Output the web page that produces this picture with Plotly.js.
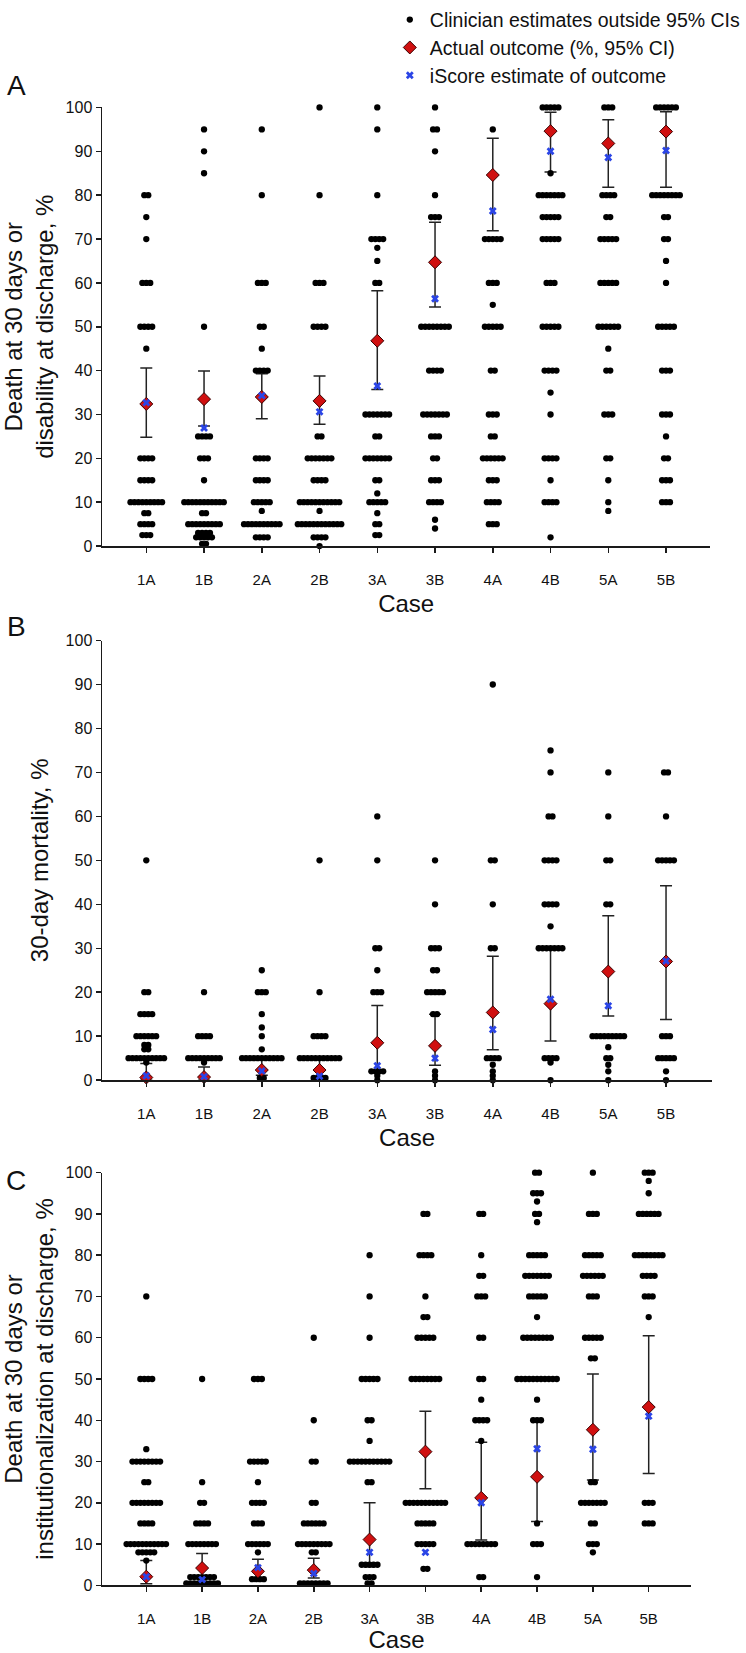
<!DOCTYPE html>
<html><head><meta charset="utf-8">
<script src="https://cdn.plot.ly/plotly-3.0.1.min.js"></script>
<style>html,body{margin:0;padding:0;background:#fff}#chart{width:746px;height:1653px}</style>
</head><body><div id="chart"></div>
<script>
// ---------- DATA ----------
const cases = ['1A','1B','2A','2B','3A','3B','4A','4B','5A','5B'];

// Panel A: death at 30 days or disability at discharge (%)
const actualA = [32.4, 33.5, 34, 33.1, 46.8, 64.7, 84.6, 94.6, 91.8, 94.5];
const ciLowA  = [24.8, 27.4, 29, 27.8, 35.7, 54.5, 71.9, 85.3, 81.8, 81.8];
const ciHighA = [40.6, 39.9, 39.3, 38.8, 58.2, 73.8, 93, 98.9, 97.2, 99];
const iscoreA = [32.7, 26.9, 34.3, 30.6, 36.5, 56.4, 76.4, 90, 88.6, 90.2];
// clinician estimates outside 95% CI: [estimate %, number of clinicians], one list per case
const estA = [
  [[80,2],[75,1],[70,1],[60,3],[50,4],[45,1],[20,4],[15,4],[10,9],[7.5,2],[5,4],[2.5,3]],
  [[95,1],[90,1],[85,1],[50,1],[25,4],[20,3],[15,1],[10,11],[7.5,2],[5,9],[3,4],[2,5],[0.5,2]],
  [[95,1],[80,1],[60,3],[50,2],[45,1],[40,4],[20,4],[15,4],[10,5],[8,1],[5,10],[2,4]],
  [[100,1],[80,1],[60,3],[50,4],[25,2],[20,7],[15,4],[10,11],[8,1],[5,12],[2,4],[0,1]],
  [[100,1],[95,1],[80,1],[70,4],[68,1],[65,1],[60,2],[30,7],[25,2],[20,7],[15,2],[12,1],[10,5],[7.5,1],[5,2],[2.5,2]],
  [[100,1],[95,2],[90,1],[80,1],[75,3],[50,8],[40,4],[30,7],[25,3],[20,2],[15,3],[10,4],[6,1],[4,1]],
  [[95,1],[70,5],[60,3],[55,1],[50,5],[40,2],[30,3],[25,2],[20,6],[15,3],[10,4],[5,3]],
  [[100,5],[85,1],[80,7],[75,5],[70,5],[60,3],[50,5],[40,4],[35,1],[30,1],[20,4],[15,1],[10,4],[2,1]],
  [[100,3],[80,4],[75,2],[70,5],[60,5],[50,6],[45,1],[40,2],[30,3],[20,2],[15,1],[10,1],[8,1]],
  [[100,6],[80,8],[75,2],[70,2],[65,1],[60,1],[50,5],[40,3],[30,3],[25,1],[20,2],[15,3],[10,3]]
];

// Panel B: 30-day mortality (%)
const actualB = [0.6, 0.7, 2.3, 2.3, 8.5, 7.8, 15.4, 17.4, 24.7, 27];
const ciLowB  = [0, 0, 1.1, 0, 2.1, 3.4, 6.9, 8.9, 14.6, 13.8];
const ciHighB = [3.8, 3, 5, 5, 17, 15, 28.2, 30, 37.4, 44.2];
const iscoreB = [1, 0.8, 2.1, 0.9, 3.3, 5, 11.5, 18.4, 16.9, 27.1];
const estB = [
  [[50,1],[20,2],[15,4],[10,6],[8,2],[7,2],[5,10],[4,1]],
  [[20,1],[10,4],[5,9],[4,1]],
  [[25,1],[20,3],[15,1],[12,1],[10,1],[7,1],[5,11],[0.5,2]],
  [[50,1],[20,1],[10,4],[5,11],[0.5,4]],
  [[60,1],[50,1],[30,2],[25,1],[20,3],[2,4],[1,1],[0,1]],
  [[50,1],[40,1],[30,3],[25,2],[20,5],[15,2],[2,1],[1,1],[0,1]],
  [[90,1],[50,2],[40,1],[30,2],[5,4],[3.5,1],[2,1],[1,1],[0,1]],
  [[75,1],[70,1],[60,2],[50,4],[40,4],[35,1],[30,7],[5,4],[4,1],[0,1]],
  [[70,1],[60,1],[50,2],[40,2],[10,9],[7.5,1],[5,2],[3.5,1],[2,1],[0,1]],
  [[70,2],[60,1],[50,5],[10,3],[5,5],[2,1],[0,1]]
];

// Panel C: death at 30 days or institutionalization at discharge (%)
const actualC = [2.1, 4.2, 3.4, 3.7, 11.1, 32.4, 21.2, 26.3, 37.7, 43.2];
const ciLowC  = [0.4, 0.8, 1.4, 1.8, 4.5, 23.4, 11, 15.5, 25.5, 27.1];
const ciHighC = [6, 7.7, 6.3, 6.6, 20, 42.2, 34.7, 39.6, 51.2, 60.5];
const iscoreC = [2.1, 1.4, 4.3, 2.9, 8, 8, 20, 33.1, 33, 41];
const estC = [
  [[70,1],[50,4],[33,1],[30,8],[25,2],[20,8],[15,4],[10,11],[8,5],[6,1]],
  [[50,1],[25,1],[20,2],[15,4],[10,8],[2,7],[0.5,9]],
  [[50,3],[30,5],[25,1],[20,4],[15,3],[10,6],[8,1],[1.5,4]],
  [[60,1],[40,1],[30,2],[20,2],[15,6],[10,9],[8,2],[0.5,8]],
  [[80,1],[70,1],[60,1],[50,5],[40,2],[35,1],[30,11],[25,2],[5,5],[2,3],[0.5,2]],
  [[90,2],[80,4],[70,1],[65,2],[60,5],[50,8],[20,11],[15,5],[10,5],[4,2]],
  [[90,2],[80,1],[75,2],[70,3],[60,2],[50,2],[45,1],[40,4],[35,1],[10,8],[2,2]],
  [[100,2],[95,3],[93,1],[90,2],[88,1],[80,5],[75,7],[70,5],[65,1],[60,8],[50,11],[45,1],[40,3],[15,1],[10,3],[2,1]],
  [[100,1],[90,3],[80,5],[75,6],[70,3],[60,5],[55,2],[25,2],[20,7],[15,2],[10,3],[8,1]],
  [[100,3],[98,1],[95,1],[90,6],[80,8],[75,4],[70,3],[65,1],[20,3],[15,3]]
];

const yTitleA = 'Death at 30 days or<br>disability at discharge, %';
const yTitleB = '30-day mortality, %';
const yTitleC = 'Death at 30 days or<br>institutionalization at discharge, %';
const xTitle = 'Case';
const legendNames = ['Clinician estimates outside 95% CIs', 'Actual outcome (%, 95% CI)', 'iScore estimate of outcome'];

// ---------- LAYOUT HELPERS ----------
const W = 746, H = 1653;
const FONT = 'Liberation Sans, Arial, sans-serif';
const INK = '#1a1a1a';
const DOT_GAP = 4.1; // px between neighbouring dots in a row

const panels = [
  {est: estA, act: actualA, lo: ciLowA, hi: ciHighA, isc: iscoreA, s: '',  top: 99,   bottom: 540,  left: 106, right: 738, c0: 152, step: 60, yt: yTitleA, letter: 'A', ly: 77},
  {est: estB, act: actualB, lo: ciLowB, hi: ciHighB, isc: iscoreB, s: '2', top: 635,  bottom: 1077, left: 106, right: 740, c0: 152, step: 60, yt: yTitleB, letter: 'B', ly: 621},
  {est: estC, act: actualC, lo: ciLowC, hi: ciHighC, isc: iscoreC, s: '3', top: 1170, bottom: 1585, left: 106, right: 718, c0: 152, step: 58, yt: yTitleC, letter: 'C', ly: 1178}
];

const traces = [];
const layout = {
  width: W, height: H, margin: {l: 0, r: 0, t: 0, b: 0},
  paper_bgcolor: '#fff', plot_bgcolor: '#fff',
  font: {family: FONT, color: '#111'},
  hovermode: false, annotations: []
};

const idx = cases.map((c, i) => i);

panels.forEach((p, pi) => {
  const xa = 'x' + p.s, ya = 'y' + p.s;
  const unit = DOT_GAP / p.step;
  // beeswarm layout of clinician estimates (side by side at each value)
  const dx = [], dy = [];
  p.est.forEach((rows, i) => rows.forEach(([v, n]) => {
    for (let j = 0; j < n; j++) { dx.push(i + (j - (n - 1) / 2) * unit); dy.push(v); }
  }));
  const first = pi === 0;
  traces.push({
    type: 'scatter', mode: 'markers', x: idx, y: p.act, xaxis: xa, yaxis: ya,
    marker: {size: 1, opacity: 0}, cliponaxis: false, showlegend: false, hoverinfo: 'skip',
    error_y: {type: 'data', symmetric: false, visible: true,
      array: p.hi.map((h, i) => h - p.act[i]), arrayminus: p.lo.map((l, i) => p.act[i] - l),
      color: '#222', thickness: 1.5, width: 6}
  });
  traces.push({
    type: 'scatter', mode: 'markers', x: dx, y: dy, xaxis: xa, yaxis: ya, cliponaxis: false,
    name: legendNames[0], showlegend: first, legend: 'legend',
    marker: {symbol: 'circle', size: 6.3, color: '#000'}
  });
  traces.push({
    type: 'scatter', mode: 'markers', x: idx, y: p.act, xaxis: xa, yaxis: ya, cliponaxis: false,
    name: legendNames[1], showlegend: first, legend: 'legend2',
    marker: {symbol: 'diamond', size: 10, color: '#d01010', line: {color: '#3a0000', width: 1}}
  });
  traces.push({
    type: 'scatter', mode: 'markers', x: idx, y: p.isc, xaxis: xa, yaxis: ya, cliponaxis: false,
    name: legendNames[2], showlegend: first, legend: 'legend3',
    marker: {symbol: 'x', size: 7, color: '#2b45e6', line: {width: 0}}
  });

  layout['xaxis' + p.s] = {
    domain: [p.left / W, p.right / W], anchor: ya,
    range: [(p.left - p.c0) / p.step, (p.right - p.c0) / p.step],
    tickvals: idx, ticktext: cases, ticks: 'outside', ticklen: 5, tickwidth: 1.5, tickcolor: INK,
    ticklabelstandoff: 14,
    showline: true, linecolor: INK, linewidth: 1.5, showgrid: false, zeroline: false, fixedrange: true,
    tickfont: {family: FONT, size: 15, color: '#111'},
    title: {text: xTitle, font: {family: FONT, size: 24, color: '#111'}, standoff: 8}
  };
  layout['yaxis' + p.s] = {
    domain: [1 - p.bottom / H, 1 - p.top / H], anchor: xa,
    range: [0, 100], tick0: 0, dtick: 10, ticks: 'outside', ticklen: 5, tickwidth: 1.5, tickcolor: INK,
    showline: true, linecolor: INK, linewidth: 1.5, showgrid: false, zeroline: false, fixedrange: true,
    tickfont: {family: FONT, size: 16, color: '#111'},
    title: {text: p.yt, font: {family: FONT, size: 24, color: '#111'}, standoff: 10}
  };
  layout.annotations.push({
    xref: 'paper', yref: 'paper', x: 17 / W, y: 1 - p.ly / H, xanchor: 'center', yanchor: 'middle',
    text: p.letter, showarrow: false, font: {family: FONT, size: 28, color: '#111'}
  });
});

const legendBase = {x: 405 / W, xanchor: 'left', yanchor: 'middle', bgcolor: 'rgba(0,0,0,0)',
  font: {family: FONT, size: 19.5, color: '#111'}, itemwidth: 30, borderwidth: 0};
layout.legend  = Object.assign({}, legendBase, {y: 1 - 11 / H});
layout.legend2 = Object.assign({}, legendBase, {y: 1 - 39 / H});
layout.legend3 = Object.assign({}, legendBase, {y: 1 - 67 / H});

Plotly.newPlot('chart', traces, layout, {displayModeBar: false, staticPlot: true});
</script></body></html>
